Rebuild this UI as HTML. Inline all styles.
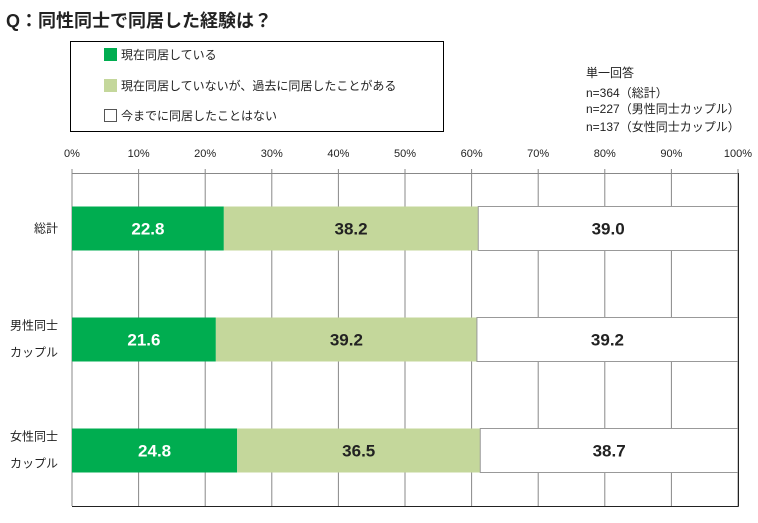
<!DOCTYPE html>
<html><head><meta charset="utf-8"><style>
body{margin:0;background:#fff;width:758px;height:518px;overflow:hidden;font-family:"Liberation Sans","Noto Sans CJK JP",sans-serif}
</style></head><body>
<svg id="c" width="758" height="518" xmlns="http://www.w3.org/2000/svg" font-family="Liberation Sans, Noto Sans CJK JP, sans-serif">
<text x="6" y="27" font-size="18" font-weight="bold" fill="#222">Q：同性同士で同居した経験は？</text>
<g>
<rect x="70.5" y="41.5" width="373" height="90" fill="#fff" stroke="#000"/>
<rect x="104" y="48" width="13" height="13" fill="#00AD50"/>
<text x="121" y="59" font-size="12" fill="#222">現在同居している</text>
<rect x="104" y="79" width="13" height="13" fill="#C4D79B"/>
<text x="121" y="90" font-size="12" fill="#222">現在同居していないが、過去に同居したことがある</text>
<rect x="104.5" y="109.5" width="12" height="12" fill="#fff" stroke="#555"/>
<text x="121" y="120" font-size="12" fill="#222">今までに同居したことはない</text>
</g>
<g font-size="12" fill="#222">
<text x="586" y="77">単一回答</text>
<text x="586" y="97">n=364（総計）</text>
<text x="586" y="113">n=227（男性同士カップル）</text>
<text x="586" y="131">n=137（女性同士カップル）</text>
</g>
<g id="plot"></g>
</svg>
<script>
const categories=["総計","男性同士カップル","女性同士カップル"];
const currentVals=[22.8,21.6,24.8];
const pastVals=[38.2,39.2,36.5];
const neverVals=[39.0,39.2,38.7];
const tickVals=[0,10,20,30,40,50,60,70,80,90,100];
const tickLabels=["0%","10%","20%","30%","40%","50%","60%","70%","80%","90%","100%"];
const NS="http://www.w3.org/2000/svg";
const g=document.getElementById('plot');
const x0=72,x1=738,yTop=173,yBot=506;
const xs=v=>x0+(x1-x0)*v/100;
const bandH=(yBot-yTop)/categories.length;
const yc=i=>yTop+bandH*(i+0.5);
function mk(t,a){const e=document.createElementNS(NS,t);for(const k in a)e.setAttribute(k,a[k]);g.appendChild(e);return e;}
tickVals.forEach((v,i)=>{
 const l=mk('line',{x1:xs(v),x2:xs(v),y1:yTop-4,y2:yBot,stroke:'#888','stroke-width':1});
 
 
 const t=mk('text',{x:xs(v),y:157,'font-size':11,'text-anchor':'middle',fill:'#222'});
 t.textContent=tickLabels[i];
 
 
});
const ax=mk('line',{x1:x0,x2:x1,y1:yTop+0.5,y2:yTop+0.5,stroke:'#888'});


const series=[[currentVals,'#00AD50','#fff','current'],[pastVals,'#C4D79B','#222','past'],[neverVals,'#fff','#222','never']];
categories.forEach((c,i)=>{
 const cy=yc(i),h=44;let acc=0;
 series.forEach(([vals,fill,tc,nm])=>{
  const v=vals[i];
  const r=mk('rect',{x:xs(acc),y:cy-h/2,width:xs(acc+v)-xs(acc),height:h,fill:fill});
  if(nm==='never'){r.setAttribute('stroke','#999');}
  
  
  const t=mk('text',{x:(xs(acc)+xs(acc+v))/2,y:cy+6,'font-size':17,'font-weight':'bold','text-anchor':'middle',fill:tc});
  t.textContent=v.toFixed(1);
  
  
  acc+=v;
 });
 const lines=c.length>2?[c.slice(0,4),c.slice(4)]:[c];
 lines.forEach((s,k)=>{
  const t=mk('text',{x:58,y:lines.length>1?cy-10+k*27:cy+4,'font-size':12,fill:'#222','text-anchor':'end'});
  t.textContent=s;
  
  
 });
});
const b1=mk('line',{x1:x0,x2:x1+0.5,y1:yBot+0.5,y2:yBot+0.5,stroke:'#222'});


const b2=mk('line',{x1:x1+0.5,x2:x1+0.5,y1:yTop,y2:yBot+0.5,stroke:'#222'});


</script>
</body></html>
